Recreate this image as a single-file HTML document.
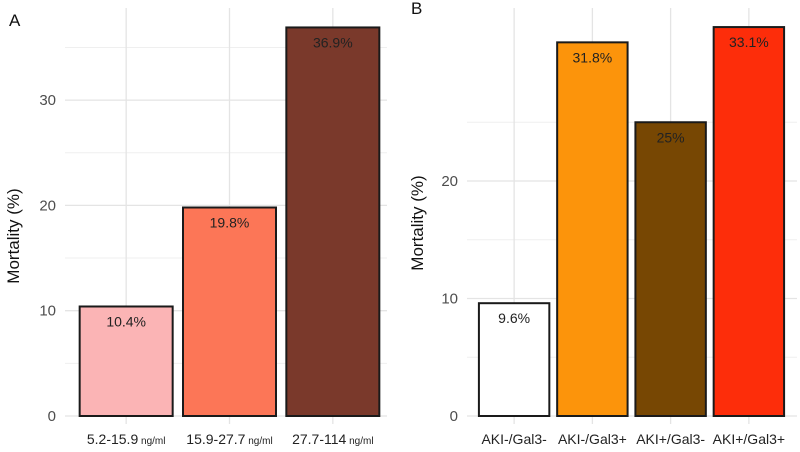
<!DOCTYPE html>
<html><head><meta charset="utf-8"><style>
body{margin:0;background:#fff;}
svg{display:block;font-family:"Liberation Sans",sans-serif;}
</style></head><body>
<svg id="c" width="800" height="452"></svg>
<script>
const catsA=["5.2-15.9","15.9-27.7","27.7-114"];
const valsA=[10.4,19.8,36.9];
const colorsA=["#fbb4b5","#fc7657","#7a392b"];
const ticksA=[0,10,20,30];
const catsB=["AKI-/Gal3-","AKI-/Gal3+","AKI+/Gal3-","AKI+/Gal3+"];
const valsB=[9.6,31.8,25,33.1];
const colorsB=["#ffffff","#fc940b","#774703","#fd2d0a"];
const ticksB=[0,10,20];
const NS="http://www.w3.org/2000/svg";
const svg=document.getElementById('c');
function mk(t,a,txt){const e=document.createElementNS(NS,t);for(const k in a)e.setAttribute(k,a[k]);if(txt!==undefined)e.textContent=txt;svg.appendChild(e);return e;}
function panel(p){
  const y=v=>p.y0-v*p.ppu;
  const bw=(p.x1-p.x0)/p.cats.length;
  const xc=i=>p.x0+bw*(i+0.5);
  for(let v=5;v<p.max;v+=10){const g=mk('line',{x1:p.g0,x2:p.g1,y1:y(v),y2:y(v),stroke:'#efefef','stroke-width':1});}
  p.ticks.forEach(t=>{const g=mk('line',{x1:p.g0,x2:p.g1,y1:y(t),y2:y(t),stroke:'#e4e4e4','stroke-width':1.3});
    const l=mk('text',{x:p.tx,y:y(t)+5,'text-anchor':'end','font-size':15,fill:'#4d4d4d'},t);});
  p.cats.forEach((c,i)=>{const g=mk('line',{x1:xc(i),x2:xc(i),y1:8,y2:y(0)+8,stroke:'#e4e4e4','stroke-width':1.3});});
  p.cats.forEach((c,i)=>{
    const w=bw*0.9;
    const b=mk('rect',{x:xc(i)-w/2,y:y(p.vals[i]),width:w,height:y(0)-y(p.vals[i]),fill:p.colors[i],stroke:'#1a1a1a','stroke-width':2});
    
    const lb=mk('text',{x:xc(i),y:y(p.vals[i])+20,'text-anchor':'middle','font-size':14,fill:'#222'},p.vals[i]+'%');
    
    const xl=mk('text',{x:xc(i),y:444,'text-anchor':'middle','font-size':14,fill:'#222'});
    
    const s1=document.createElementNS(NS,'tspan');s1.textContent=c;xl.appendChild(s1);
    if(p.unit){const s2=document.createElementNS(NS,'tspan');s2.setAttribute('font-size',10);s2.textContent=' ng/ml';xl.appendChild(s2);}
  });
  const yt=mk('text',{x:p.yx,y:p.yy,'text-anchor':'middle','font-size':17,fill:'#111',transform:`rotate(-90 ${p.yx} ${p.yy})`},'Mortality (%)');
  
  const pl=mk('text',{x:p.lx,y:p.ly,'font-size':17,fill:'#111'},p.letter);
  
}
panel({cats:catsA,vals:valsA,colors:colorsA,ticks:ticksA,max:37,x0:74.5,x1:384.5,g0:65,g1:387,y0:416,ppu:10.53,tx:56,yx:19,yy:236,lx:9,ly:26,letter:'A',unit:true});
panel({cats:catsB,vals:valsB,colors:colorsB,ticks:ticksB,max:33,x0:475,x1:788,g0:467,g1:797,y0:416,ppu:11.75,tx:458,yx:423,yy:223,lx:411,ly:14,letter:'B',unit:false});
</script>
</body></html>
